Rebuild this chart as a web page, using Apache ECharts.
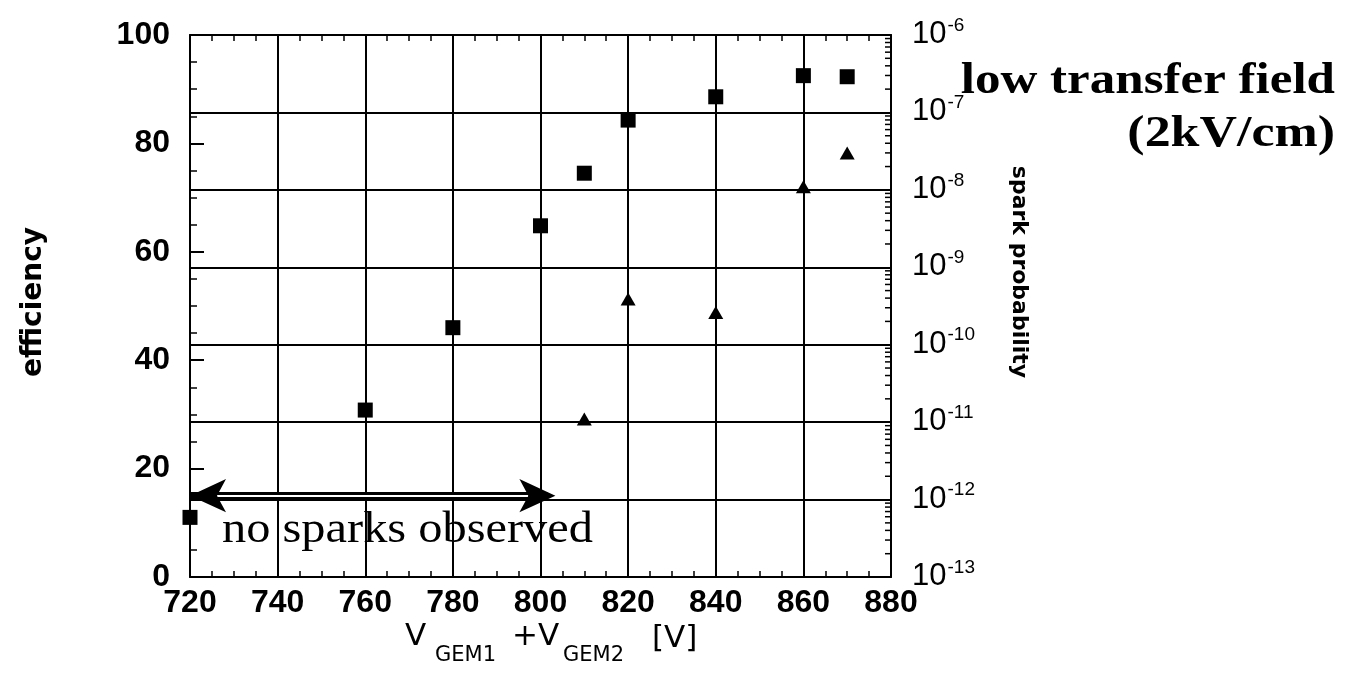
<!DOCTYPE html>
<html>
<head>
<meta charset="utf-8">
<script src="https://cdn.jsdelivr.net/npm/echarts@6/dist/echarts.min.js"></script>
<style>
html,body{margin:0;padding:0;background:#fff;}
#c{width:1349px;height:683px;}
</style>
</head>
<body>
<div id="c"></div>
<script>
// ---- data ----
var voltage = [720, 760, 780, 800, 810, 820, 840, 860, 870];
var efficiency = [11, 30.8, 46, 64.8, 74.5, 84.3, 88.6, 92.5, 92.3];
var sparkVoltage = [810, 820, 840, 860, 870];
var sparkProb = [1.1e-11, 3.9e-10, 2.6e-10, 1.1e-8, 3.0e-8];
var xTicks = [720, 740, 760, 780, 800, 820, 840, 860, 880];
var noSparkRange = [720, 803.4];
var noSparkLevel = 15;
var logMin = 1e-13, logMax = 1e-6;
var minorLogTicks = [];
for (var e = -13; e < -6; e++) {
  for (var k = 2; k <= 9; k++) minorLogTicks.push([880, k * Math.pow(10, e)]);
}

var chart = echarts.init(document.getElementById('c'), null, {renderer: 'canvas'});
var black = '#000';
var sans = 'Liberation Sans';
var pxPerVolt = (1349 - 190 - 458) / (880 - 720);
var headLen = 36;
var notch = headLen * 0.75 / pxPerVolt;
var stub = 8 / pxPerVolt;

var option = {
  backgroundColor: '#fff',
  animation: false,
  grid: {left: 190, right: 458, top: 35, bottom: 106, containLabel: false},
  xAxis: [{
    type: 'value', position: 'bottom', min: 720, max: 880, interval: 20,
    axisLine: {show: true, lineStyle: {color: black, width: 2}},
    axisTick: {show: true, inside: true, length: 11, lineStyle: {color: black, width: 2}},
    minorTick: {show: true, splitNumber: 4, length: 6, lineStyle: {color: black, width: 1.5}},
    axisLabel: {show: true, color: black, fontFamily: sans, fontWeight: 'bold', fontSize: 32, margin: 10,
      formatter: function (v) { return xTicks.indexOf(v) >= 0 ? String(v) : ''; }},
    splitLine: {show: true, lineStyle: {color: black, width: 2}}
  }, {
    type: 'value', position: 'top', min: 720, max: 880, interval: 20,
    axisLine: {show: true, lineStyle: {color: black, width: 2}},
    axisTick: {show: true, inside: true, length: 11, lineStyle: {color: black, width: 2}},
    minorTick: {show: true, splitNumber: 4, length: 6, lineStyle: {color: black, width: 1.5}},
    axisLabel: {show: false},
    splitLine: {show: false}
  }],
  yAxis: [{
    type: 'value', position: 'left', min: 0, max: 100, interval: 20,
    axisLine: {show: true, lineStyle: {color: black, width: 2}},
    axisTick: {show: true, inside: true, length: 14, lineStyle: {color: black, width: 2}},
    minorTick: {show: true, splitNumber: 4, length: 7, lineStyle: {color: black, width: 1.5}},
    axisLabel: {show: true, color: black, fontFamily: sans, fontWeight: 'bold', fontSize: 32, margin: 20},
    splitLine: {show: false}
  }, {
    type: 'log', logBase: 10, position: 'right', min: logMin, max: logMax, interval: 1,
    axisLine: {show: true, lineStyle: {color: black, width: 2}},
    axisTick: {show: true, inside: true, length: 11, lineStyle: {color: black, width: 2}},
    axisLabel: {show: true, color: black, margin: 21, padding: [0, 0, 4, 0],
      formatter: function (v) {
        var ex = Math.round(Math.log10(v));
        return '{m|10}{s|' + ex + '}';
      },
      rich: {
        m: {fontFamily: sans, fontSize: 31, color: black, verticalAlign: 'bottom', lineHeight: 34},
        s: {fontFamily: sans, fontSize: 19, color: black, verticalAlign: 'top', lineHeight: 19, padding: [0, 0, 0, 1]}
      }
    },
    splitLine: {show: true, lineStyle: {color: black, width: 2}}
  }],
  series: [{
    name: 'efficiency', type: 'scatter', xAxisIndex: 0, yAxisIndex: 0,
    symbol: 'rect', symbolSize: 15, itemStyle: {color: black, opacity: 1},
    data: voltage.map(function (v, i) { return [v, efficiency[i]]; }),
    z: 5,
    markLine: {
      silent: true, animation: false, symbol: 'none',
      label: {show: false},
      emphasis: {disabled: true},
      data: [
        [{coord: [noSparkRange[0], noSparkLevel]},
         {coord: [noSparkRange[1] - stub, noSparkLevel],
          lineStyle: {color: black, width: 7, type: 'solid', opacity: 1}}],
        [{coord: [noSparkRange[0] + notch, noSparkLevel]},
         {coord: [noSparkRange[1] - notch, noSparkLevel],
          lineStyle: {color: '#fff', width: 2, type: 'solid', opacity: 1}}]
      ]
    },
    markPoint: {
      silent: true, animation: false,
      label: {show: false},
      itemStyle: {color: black, opacity: 1},
      data: [
        {coord: [noSparkRange[0], noSparkLevel], symbol: 'arrow', symbolSize: [25, headLen], symbolRotate: 90},
        {coord: [noSparkRange[1], noSparkLevel], symbol: 'arrow', symbolSize: [25, headLen], symbolRotate: -90}
      ]
    }
  }, {
    name: 'spark probability', type: 'scatter', xAxisIndex: 0, yAxisIndex: 1,
    symbol: 'triangle', symbolSize: [15, 13], itemStyle: {color: black, opacity: 1},
    data: sparkVoltage.map(function (v, i) { return [v, sparkProb[i]]; }),
    z: 5
  }, {
    name: 'logMinorTicks', type: 'custom', xAxisIndex: 0, yAxisIndex: 1,
    silent: true, z: 3,
    data: minorLogTicks,
    renderItem: function (params, api) {
      var p = api.coord([api.value(0), api.value(1)]);
      return {type: 'line', shape: {x1: p[0], y1: p[1], x2: p[0] - 6, y2: p[1]},
        style: {stroke: black, lineWidth: 1.5}};
    }
  }],
  graphic: [
    {type: 'text', x: 1335, y: 82, scaleX: 1.16,
      style: {text: 'low transfer field', font: 'bold 44px "Liberation Serif"', fill: black, align: 'right', verticalAlign: 'middle'}},
    {type: 'text', x: 1335, y: 135, scaleX: 1.18,
      style: {text: '(2kV/cm)', font: 'bold 44px "Liberation Serif"', fill: black, align: 'right', verticalAlign: 'middle'}},
    {type: 'text', x: 222, y: 530, scaleX: 1.10,
      style: {text: 'no sparks observed', font: '44px "Liberation Serif"', fill: black, align: 'left', verticalAlign: 'middle'}},
    {type: 'text', x: 34, y: 302, rotation: Math.PI / 2,
      style: {text: 'efficiency', font: 'bold 28px "DejaVu Sans"', fill: black, align: 'center', verticalAlign: 'middle'}},
    {type: 'text', x: 1019, y: 272, rotation: -Math.PI / 2,
      style: {text: 'spark probability', font: 'bold 22px "DejaVu Sans"', fill: black, align: 'center', verticalAlign: 'middle'}},
    {type: 'text', x: 405, y: 637,
      style: {text: 'V', font: '31px "DejaVu Sans"', fill: black, align: 'left', verticalAlign: 'middle'}},
    {type: 'text', x: 435, y: 656,
      style: {text: 'GEM1', font: '21px "DejaVu Sans"', fill: black, align: 'left', verticalAlign: 'middle'}},
    {type: 'text', x: 512, y: 637,
      style: {text: '+V', font: '31px "DejaVu Sans"', fill: black, align: 'left', verticalAlign: 'middle'}},
    {type: 'text', x: 563, y: 656,
      style: {text: 'GEM2', font: '21px "DejaVu Sans"', fill: black, align: 'left', verticalAlign: 'middle'}},
    {type: 'text', x: 652, y: 639,
      style: {text: '[V]', font: '31px "DejaVu Sans"', fill: black, align: 'left', verticalAlign: 'middle'}}
  ]
};
chart.setOption(option);
</script>
</body>
</html>
